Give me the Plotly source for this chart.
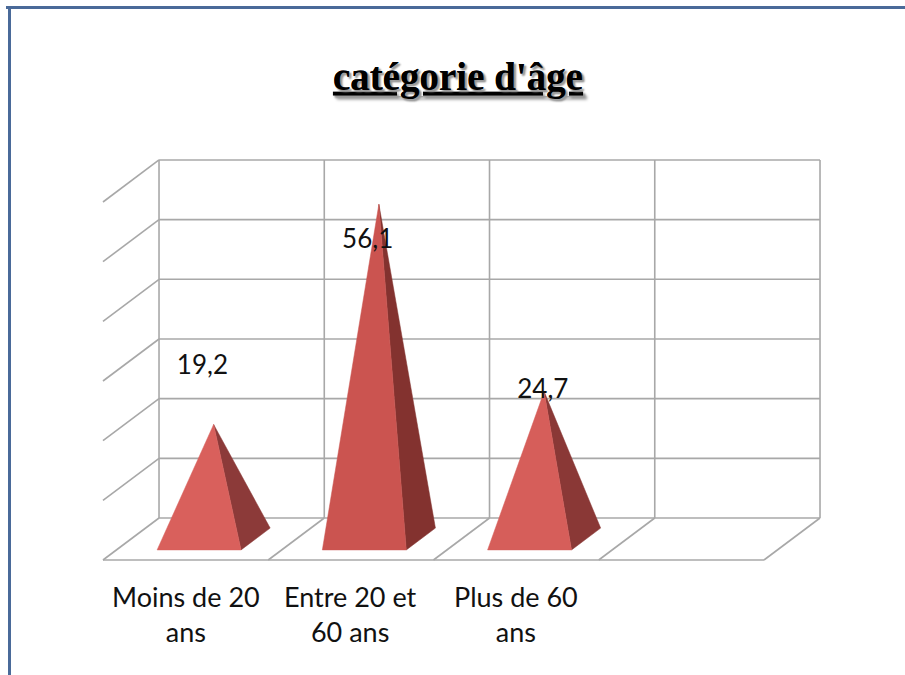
import plotly.graph_objects as go

# ---------------- data ----------------
categories = ["Moins de 20<br>ans", "Entre 20 et<br>60 ans", "Plus de 60<br>ans", ""]
values = [19.2, 56.1, 24.7]
value_labels = ["19,2", "56,1", "24,7"]
y_ticks = [0, 10, 20, 30, 40, 50, 60]

# ---------------- style / geometry ----------------
DX = 0.339          # oblique depth shift, category units
DY = 7.04           # oblique depth shift, value units
HALF_W = 0.254      # pyramid base half width (category units)
D0, D1 = 0.24, 0.76 # pyramid base depth span
front_colors = ["#D9605C", "#CB5450", "#D65E5A"]
side_colors = ["#8C3A39", "#83322F", "#8A3836"]
label_dy = [10.9, -4.9, 1.4]   # Excel-like label placement offsets
label_dx = [0.0, 0.0, 0.06]
GRID = "#A8A8A8"
FONT = "Lato"


def P(c, v, d):
    return c + d * DX, v + d * DY


fig = go.Figure()

# ---------------- 3D grid box ----------------
gx, gy = [], []
ncat = len(categories)
vmax = y_ticks[-1]
for t in y_ticks:  # back wall horizontals
    for pt in (P(0, t, 1), P(ncat, t, 1)):
        gx.append(pt[0]); gy.append(pt[1])
    gx.append(None); gy.append(None)
for c in range(ncat + 1):  # back wall verticals
    for pt in (P(c, 0, 1), P(c, vmax, 1)):
        gx.append(pt[0]); gy.append(pt[1])
    gx.append(None); gy.append(None)
for t in y_ticks:  # left side wall diagonals
    for pt in (P(0, t, 0), P(0, t, 1)):
        gx.append(pt[0]); gy.append(pt[1])
    gx.append(None); gy.append(None)
for c in range(1, ncat + 1):  # floor diagonals
    for pt in (P(c, 0, 0), P(c, 0, 1)):
        gx.append(pt[0]); gy.append(pt[1])
    gx.append(None); gy.append(None)
for pt in (P(0, 0, 0), P(ncat, 0, 0)):  # front floor edge
    gx.append(pt[0]); gy.append(pt[1])

fig.add_trace(go.Scatter(x=gx, y=gy, mode="lines",
                         line=dict(color=GRID, width=1.6),
                         hoverinfo="skip", showlegend=False))

# ---------------- pyramids ----------------
for i, v in enumerate(values):
    cx = i + 0.5
    fl = P(cx - HALF_W, 0, D0)
    fr = P(cx + HALF_W, 0, D0)
    br = P(cx + HALF_W, 0, D1)
    ap = P(cx, v, 0.5)
    # side face
    fig.add_trace(go.Scatter(x=[fr[0], br[0], ap[0], fr[0]],
                             y=[fr[1], br[1], ap[1], fr[1]],
                             mode="lines", fill="toself",
                             fillcolor=side_colors[i],
                             line=dict(color=side_colors[i], width=0.5),
                             hoverinfo="skip", showlegend=False))
    # front face
    fig.add_trace(go.Scatter(x=[fl[0], fr[0], ap[0], fl[0]],
                             y=[fl[1], fr[1], ap[1], fl[1]],
                             mode="lines", fill="toself",
                             fillcolor=front_colors[i],
                             line=dict(color=front_colors[i], width=0.5),
                             hoverinfo="skip", showlegend=False))

# ---------------- value labels ----------------
lx, ly = [], []
for i, v in enumerate(values):
    p = P(i + 0.5 + label_dx[i], v + label_dy[i], 0.3)
    lx.append(p[0]); ly.append(p[1])
fig.add_trace(go.Scatter(x=lx, y=ly, mode="text", text=value_labels,
                         textposition="middle center",
                         textfont=dict(family=FONT, size=26, color="#111111"),
                         hoverinfo="skip", showlegend=False))

# ---------------- category labels ----------------
for i, lab in enumerate(categories):
    if not lab:
        continue
    fig.add_annotation(x=i + 0.5, y=-3.0, xref="x", yref="y",
                       text=lab, showarrow=False, yanchor="top",
                       xanchor="center", align="center",
                       font=dict(family=FONT, size=27, color="#111111"))

# ---------------- layout ----------------
fig.update_layout(
    width=905, height=675,
    margin=dict(l=0, r=0, t=0, b=0),
    paper_bgcolor="white", plot_bgcolor="white",
    title=dict(text="<u>catégorie d'âge</u>", x=458 / 905, xanchor="center",
               y=1 - 76 / 675, yref="container", yanchor="middle",
               font=dict(family="Liberation Serif", size=39, color="black",
                         weight="bold", shadow="2px 2px 2px #9a9a9a")),
    xaxis=dict(range=[-0.6233, 4.8533], visible=False, fixedrange=True),
    yaxis=dict(range=[-19.27, 93.85], visible=False, fixedrange=True),
    showlegend=False,
    shapes=[
        dict(type="line", xref="paper", yref="paper", x0=6 / 905, x1=1.0,
             y0=1 - 7.5 / 675, y1=1 - 7.5 / 675,
             line=dict(color="#4A6A99", width=3)),
        dict(type="line", xref="paper", yref="paper", x0=9.5 / 905, x1=9.5 / 905,
             y0=0, y1=1 - 6 / 675,
             line=dict(color="#4A6A99", width=3)),
    ],
)

fig.write_html("out.html",
               config={"displayModeBar": False},
               post_script="document.body.style.margin='0';"
                           "document.body.style.overflow='hidden';")
